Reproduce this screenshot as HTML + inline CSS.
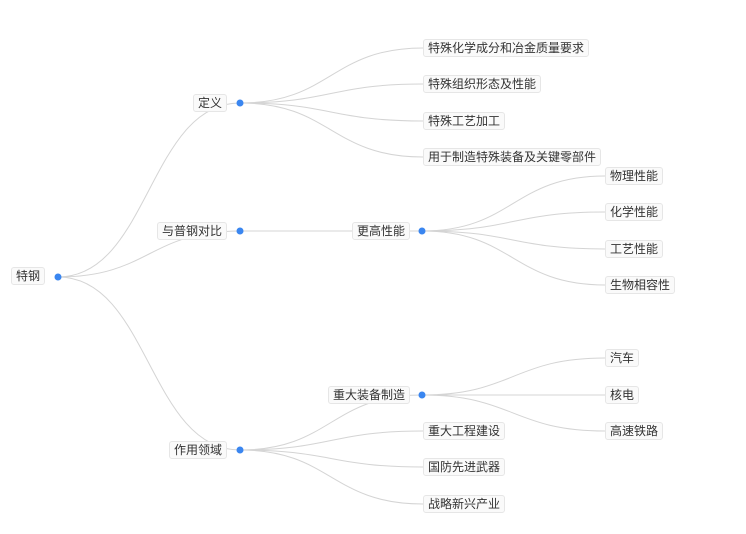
<!DOCTYPE html>
<html><head><meta charset="utf-8"><style>
body{margin:0;width:746px;height:534px;background:#fff;position:relative;overflow:hidden;font-family:"Liberation Sans","Noto Sans CJK SC",sans-serif}
svg{position:absolute;left:0;top:0}
.l{position:absolute;height:16px;line-height:16px;font-size:12px;color:#333;background:#fafafa;border:1px solid #e6e6e6;border-radius:3px;padding:0 4px;white-space:nowrap;transform:translateY(-50%)}
.r{transform:translate(-100%,-50%)}
</style></head><body>
<svg width="746" height="534" fill="none" stroke="#d4d4d4" stroke-width="1">
<path d="M58 277C149 277 149 103 240 103"/>
<path d="M58 277C149 277 149 231 240 231"/>
<path d="M58 277C149 277 149 450 240 450"/>
<path d="M240 103C331 103 331 48 423 48"/>
<path d="M240 103C331 103 331 84 423 84"/>
<path d="M240 103C331 103 331 121 423 121"/>
<path d="M240 103C331 103 331 157 423 157"/>
<path d="M240 231L422 231"/>
<path d="M422 231C513 231 513 176 605 176"/>
<path d="M422 231C513 231 513 212 605 212"/>
<path d="M422 231C513 231 513 249 605 249"/>
<path d="M422 231C513 231 513 285 605 285"/>
<path d="M240 450C331 450 331 395 422 395"/>
<path d="M240 450C331 450 331 431 423 431"/>
<path d="M240 450C331 450 331 467 423 467"/>
<path d="M240 450C331 450 331 504 423 504"/>
<path d="M422 395C513 395 513 358 605 358"/>
<path d="M422 395L605 395"/>
<path d="M422 395C513 395 513 431 605 431"/>
<g fill="#3a86f0" stroke="none">
<circle cx="58" cy="277" r="3.5"/><circle cx="240" cy="103" r="3.5"/><circle cx="240" cy="231" r="3.5"/><circle cx="240" cy="450" r="3.5"/><circle cx="422" cy="231" r="3.5"/><circle cx="422" cy="395" r="3.5"/>
</g></svg>
<div class="l r" style="left:45px;top:276px">特钢</div>
<div class="l r" style="left:227px;top:103px">定义</div>
<div class="l r" style="left:227px;top:231px">与普钢对比</div>
<div class="l r" style="left:227px;top:450px">作用领域</div>
<div class="l r" style="left:410px;top:231px">更高性能</div>
<div class="l r" style="left:410px;top:395px">重大装备制造</div>
<div class="l" style="left:423px;top:48px">特殊化学成分和冶金质量要求</div>
<div class="l" style="left:423px;top:84px">特殊组织形态及性能</div>
<div class="l" style="left:423px;top:121px">特殊工艺加工</div>
<div class="l" style="left:423px;top:157px">用于制造特殊装备及关键零部件</div>
<div class="l" style="left:605px;top:176px">物理性能</div>
<div class="l" style="left:605px;top:212px">化学性能</div>
<div class="l" style="left:605px;top:249px">工艺性能</div>
<div class="l" style="left:605px;top:285px">生物相容性</div>
<div class="l" style="left:605px;top:358px">汽车</div>
<div class="l" style="left:605px;top:395px">核电</div>
<div class="l" style="left:605px;top:431px">高速铁路</div>
<div class="l" style="left:423px;top:431px">重大工程建设</div>
<div class="l" style="left:423px;top:467px">国防先进武器</div>
<div class="l" style="left:423px;top:504px">战略新兴产业</div>
</body></html>
